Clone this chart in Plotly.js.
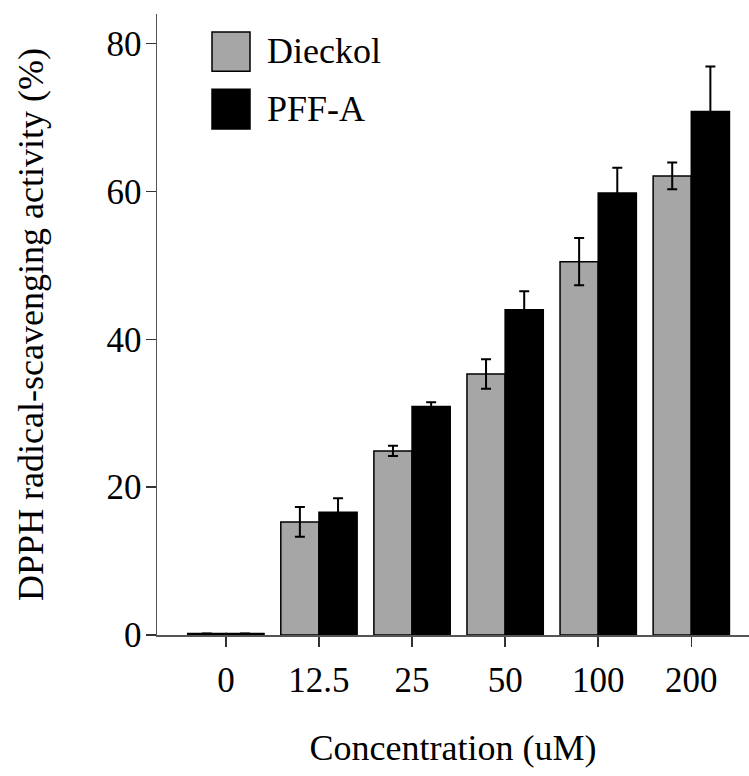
<!DOCTYPE html>
<html>
<head>
<meta charset="utf-8">
<script src="https://cdn.plot.ly/plotly-3.0.1.min.js"></script>
<style>html,body{margin:0;padding:0;background:#fff;}#chart{width:749px;height:776px;}</style>
</head>
<body>
<div id="chart"></div>
<script>
const categories = ["0", "12.5", "25", "50", "100", "200"];
const dieckolValues = [0.2, 15.3, 24.9, 35.3, 50.5, 62.1];
const dieckolErrors = [0, 2.0, 0.7, 2.0, 3.2, 1.8];
const pffaValues = [0.2, 16.6, 30.9, 44.0, 59.8, 70.8];
const pffaErrors = [0, 1.9, 0.6, 2.5, 3.4, 6.1];
const yTicks = [0, 20, 40, 60, 80];
const seriesNames = ["Dieckol", "PFF-A"];

const FONT = "Liberation Serif, Times New Roman, serif";

const traces = [
  {
    type: "bar", name: seriesNames[0], x: categories, y: dieckolValues,
    marker: {color: "#a6a6a6", line: {color: "#000", width: 1.5}},
    error_y: {type: "data", array: dieckolErrors, visible: true, color: "#000", thickness: 2, width: 5}
  },
  {
    type: "bar", name: seriesNames[1], x: categories, y: pffaValues,
    marker: {color: "#000000", line: {color: "#000", width: 1.5}},
    error_y: {type: "data", array: pffaErrors, visible: true, color: "#000", thickness: 2, width: 5}
  }
];

const layout = {
  width: 749, height: 776,
  margin: {l: 157, r: 0, t: 14, b: 141},
  paper_bgcolor: "#fff", plot_bgcolor: "#fff",
  showlegend: false,
  barmode: "group", bargap: 0.18, bargroupgap: 0,
  font: {family: FONT, color: "#000", size: 36},
  xaxis: {
    type: "category", range: [-0.74, 5.62],
    showline: true, linecolor: "#555", linewidth: 1.5,
    ticks: "outside", ticklen: 10, tickwidth: 1.5, tickcolor: "#333",
    ticklabelstandoff: 3,
    showgrid: false, zeroline: false,
    tickfont: {family: FONT, size: 35, color: "#000"},
    title: {text: "Concentration (uM)", font: {family: FONT, size: 36, color: "#000"}, standoff: 36}
  },
  yaxis: {
    range: [0, 84], tickvals: yTicks, ticktext: yTicks.map(String),
    showline: true, linecolor: "#555", linewidth: 1.5,
    ticks: "outside", ticklen: 10, tickwidth: 1.5, tickcolor: "#333",
    ticklabelstandoff: -3,
    showgrid: false, zeroline: false,
    tickfont: {family: FONT, size: 35, color: "#000"},
    title: {text: "DPPH radical-scavenging activity (%)", font: {family: FONT, size: 36, color: "#000"}, standoff: 52}
  },
  shapes: [
    {type: "rect", xref: "paper", yref: "paper", x0: 0.0929, x1: 0.1571, y0: 0.908, y1: 0.971,
     fillcolor: "#a6a6a6", line: {color: "#000", width: 1.5}},
    {type: "rect", xref: "paper", yref: "paper", x0: 0.0929, x1: 0.1571, y0: 0.815, y1: 0.879,
     fillcolor: "#000", line: {color: "#000", width: 1.5}}
  ],
  annotations: [
    {xref: "paper", yref: "paper", x: 0.182, y: 0.940, xanchor: "left", yanchor: "middle",
     text: seriesNames[0], showarrow: false, font: {family: FONT, size: 36, color: "#000"}},
    {xref: "paper", yref: "paper", x: 0.182, y: 0.847, xanchor: "left", yanchor: "middle",
     text: seriesNames[1], showarrow: false, font: {family: FONT, size: 36, color: "#000"}}
  ]
};

Plotly.newPlot("chart", traces, layout, {displayModeBar: false, staticPlot: true});
</script>
</body>
</html>
